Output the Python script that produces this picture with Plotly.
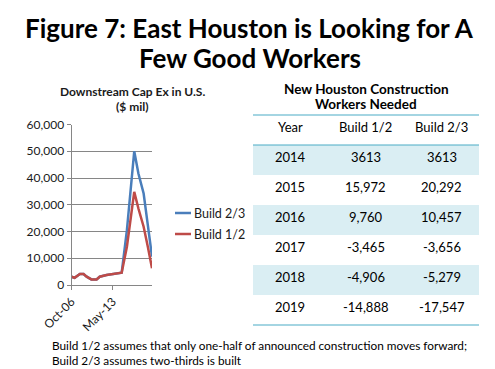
import plotly.graph_objects as go

# ---- data ----
dates = ["2006-10-01", "2007-04-01", "2008-02-01", "2008-09-01", "2009-03-01",
         "2009-12-01", "2010-10-01", "2011-04-01", "2012-05-01", "2013-06-01",
         "2014-10-01", "2015-08-01", "2016-10-01", "2017-06-01", "2018-04-01",
         "2018-12-01", "2019-08-01"]
build_23 = [3100, 2700, 4100, 4100, 3100, 2100, 2100, 3100, 3700, 4100,
            4600, 20500, 50000, 41700, 34200, 22400, 10600]
build_12 = [3100, 2700, 4100, 4100, 3100, 2100, 2100, 3100, 3700, 4100,
            4600, 14300, 34800, 28600, 21800, 14300, 6300]
x_tick_vals = ["2006-10-01", "2013-05-01"]
x_tick_text = ["Oct-06", "May-13"]

table_years = ["2014", "2015", "2016", "2017", "2018", "2019"]
table_build_12 = ["3613", "15,972", "9,760", "-3,465", "-4,906", "-14,888"]
table_build_23 = ["3613", "20,292", "10,457", "-3,656", "-5,279", "-17,547"]
table_headers = ["Year", "Build 1/2", "Build 2/3"]

W, H = 495, 369
FONT = "Lato"
BLUE = "#4A7EBB"
RED = "#BE4B48"
GRID = "#868686"
TEAL = "#4BACC6"
BAND = "#DAEEF3"

def px(x):
    return x / W

def py(y):
    return 1 - y / H

fig = go.Figure()
fig.add_trace(go.Scatter(x=dates, y=build_23, mode="lines", name="Build 2/3",
                         line=dict(color=BLUE, width=2.5), showlegend=False))
fig.add_trace(go.Scatter(x=dates, y=build_12, mode="lines", name="Build 1/2",
                         line=dict(color=RED, width=2.5), showlegend=False))

shapes = []
ann = []

def text(t, x, y, size, anchor="center", bold=False, color="black"):
    if bold:
        t = "<b>" + t + "</b>"
    ann.append(dict(text=t, x=px(x), y=py(y), xref="paper", yref="paper", showarrow=False,
                    xanchor=anchor, yanchor="middle", font=dict(family=FONT, size=size, color=color)))

# Title
text("Figure 7: East Houston is Looking for A", 249.5, 28, 26, bold=True)
text("Few Good Workers", 249.5, 58, 26, bold=True)

# Chart subtitle
text("Downstream Cap Ex in U.S.", 132, 91, 12, bold=True, color="#1a1a1a")
text("($ mil)", 132, 106, 12, bold=True, color="#1a1a1a")

# Manual legend
for name, col, yy in [("Build 2/3", BLUE, 213), ("Build 1/2", RED, 234)]:
    shapes.append(dict(type="line", xref="paper", yref="paper", x0=px(175), x1=px(191),
                       y0=py(yy), y1=py(yy), line=dict(color=col, width=2.5)))
    text(name, 191.5, yy, 12.5, anchor="left", color="#1a1a1a")

# Table
tx0, tx1 = 253, 479
text("New Houston Construction", 366, 89, 13.5, bold=True)
text("Workers Needed", 366, 104.5, 13.5, bold=True)
row_h = 30
first_row_top = 145
for i in range(len(table_years)):
    if i % 2 == 0:
        top = first_row_top + i * row_h
        shapes.append(dict(type="rect", xref="paper", yref="paper", x0=px(tx0), x1=px(tx1),
                           y0=py(top), y1=py(top + row_h), fillcolor=BAND, line=dict(width=0), layer="below"))
for yy in [115, 145, 325]:
    shapes.append(dict(type="line", xref="paper", yref="paper", x0=px(tx0), x1=px(tx1),
                       y0=py(yy), y1=py(yy), line=dict(color=TEAL, width=1.2)))
col_x = [290, 365.5, 441.5]
for cx, h in zip(col_x, table_headers):
    text(h, cx, 127, 13)
for i, row in enumerate(zip(table_years, table_build_12, table_build_23)):
    yy = first_row_top + i * row_h + 12
    for cx, t in zip(col_x, row):
        text(t, cx, yy, 13)

# Footnote
text("Build 1/2 assumes that only one-half of announced construction moves forward;", 50, 345, 11.8, anchor="left")
text("Build 2/3 assumes two-thirds is built", 50, 360, 11.8, anchor="left")

fig.update_layout(
    width=W, height=H, margin=dict(l=0, r=0, t=0, b=0, pad=0, autoexpand=False),
    paper_bgcolor="white", plot_bgcolor="white", showlegend=False,
    shapes=shapes, annotations=ann,
    xaxis=dict(domain=[px(71.5), px(152)], type="date", automargin=False,
               range=["2006-10-01", "2019-08-01"],
               tickvals=x_tick_vals, ticktext=x_tick_text, tickangle=-45,
               showgrid=False, showline=True, linecolor=GRID, linewidth=1,
               ticks="outside", ticklen=4, tickcolor=GRID,
               tickfont=dict(family=FONT, size=12, color="#1a1a1a"), zeroline=False),
    yaxis=dict(domain=[py(285), py(124.5)], range=[0, 60000], dtick=10000, automargin=False,
               tickformat=",", showgrid=True, gridcolor=GRID, gridwidth=1,
               showline=True, linecolor=GRID, linewidth=1,
               ticks="outside", ticklen=4, tickcolor=GRID,
               tickfont=dict(family=FONT, size=12, color="#1a1a1a"), zeroline=False),
)

fig.write_html("out.html", config={"displayModeBar": False},
               post_script="document.body.style.margin='0';")
